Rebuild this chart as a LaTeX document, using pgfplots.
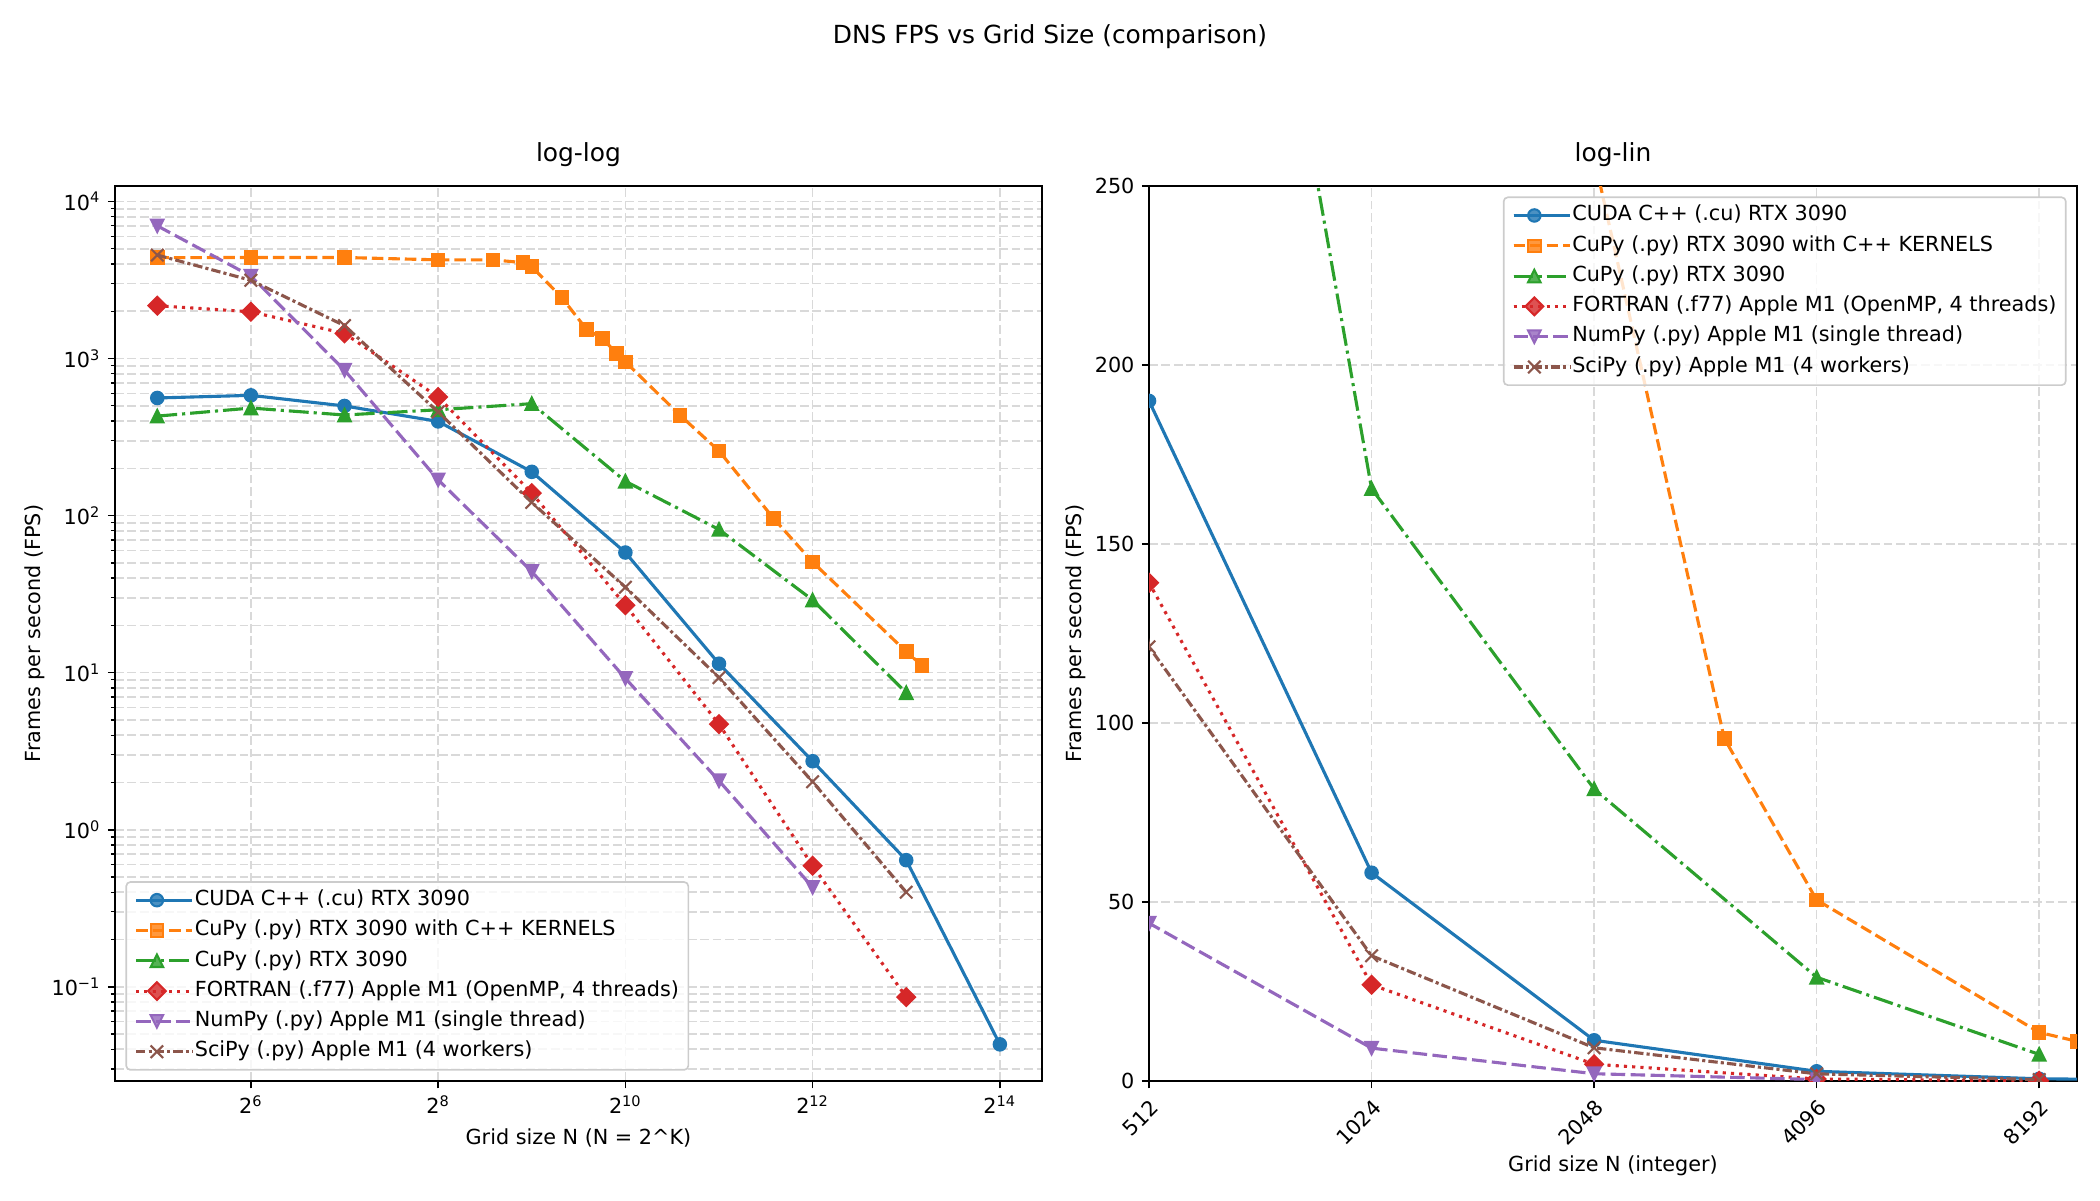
\documentclass[border=0pt]{standalone}
\usepackage{fontspec}
\setmainfont{DejaVu Sans}
\usepackage{pgfplots}
\usepackage{pgfplotstable}
\pgfplotsset{compat=1.18}

\definecolor{c0}{HTML}{1F77B4}
\definecolor{c1}{HTML}{FF7F0E}
\definecolor{c2}{HTML}{2CA02C}
\definecolor{c3}{HTML}{D62728}
\definecolor{c4}{HTML}{9467BD}
\definecolor{c5}{HTML}{8C564B}
\definecolor{gridc}{HTML}{D9D9D9}
\definecolor{legc}{HTML}{CCCCCC}

\pgfdeclareplotmark{mpltriup}{%
  \pgfpathmoveto{\pgfqpoint{0pt}{\pgfplotmarksize}}%
  \pgfpathlineto{\pgfqpoint{-\pgfplotmarksize}{-\pgfplotmarksize}}%
  \pgfpathlineto{\pgfqpoint{\pgfplotmarksize}{-\pgfplotmarksize}}%
  \pgfpathclose\pgfusepathqfillstroke}
\pgfdeclareplotmark{mpltridown}{%
  \pgfpathmoveto{\pgfqpoint{0pt}{-\pgfplotmarksize}}%
  \pgfpathlineto{\pgfqpoint{-\pgfplotmarksize}{\pgfplotmarksize}}%
  \pgfpathlineto{\pgfqpoint{\pgfplotmarksize}{\pgfplotmarksize}}%
  \pgfpathclose\pgfusepathqfillstroke}
\pgfdeclareplotmark{mpldiamond}{%
  \pgfpathmoveto{\pgfqpoint{0pt}{1.4142\pgfplotmarksize}}%
  \pgfpathlineto{\pgfqpoint{1.4142\pgfplotmarksize}{0pt}}%
  \pgfpathlineto{\pgfqpoint{0pt}{-1.4142\pgfplotmarksize}}%
  \pgfpathlineto{\pgfqpoint{-1.4142\pgfplotmarksize}{0pt}}%
  \pgfpathclose\pgfusepathqfillstroke}
\pgfdeclareplotmark{mplx}{%
  \pgfpathmoveto{\pgfqpoint{-\pgfplotmarksize}{-\pgfplotmarksize}}%
  \pgfpathlineto{\pgfqpoint{\pgfplotmarksize}{\pgfplotmarksize}}%
  \pgfpathmoveto{\pgfqpoint{-\pgfplotmarksize}{\pgfplotmarksize}}%
  \pgfpathlineto{\pgfqpoint{\pgfplotmarksize}{-\pgfplotmarksize}}%
  \pgfusepathqstroke}

\pgfplotstableread{
N fps
32 561
64 583
128 499
256 398
512 190
1024 58.2
2048 11.4
4096 2.73
8192 0.64
16384 0.043
}\cuda
\pgfplotstableread{
N fps
32 4390
64 4400
128 4400
256 4250
384 4250
480 4080
512 3850
640 2440
768 1535
864 1343
960 1077
1024 953
1536 435
2048 258
3072 95.7
4096 50.6
8192 13.6
9216 11.1
}\cupyk
\pgfplotstableread{
N fps
32 430
64 484
128 437
256 472
512 516
1024 165.5
2048 81.6
4096 29.0
8192 7.45
}\cupy
\pgfplotstableread{
N fps
32 2170
64 1985
128 1445
256 569
512 139.2
1024 26.9
2048 4.7
4096 0.59
8192 0.086
}\fortran
\pgfplotstableread{
N fps
32 7000
64 3350
128 843
256 169
512 44.1
1024 9.2
2048 2.05
4096 0.43
}\numpy
\pgfplotstableread{
N fps
32 4560
64 3150
128 1620
256 457
512 121.3
1024 35.0
2048 9.3
4096 2.02
8192 0.40
}\scipy

\pgfplotsset{
  mplbase/.style={
    scale only axis, width=446.6pt, height=431.2pt,
    axis line style={black, line width=0.8pt},
    tick align=outside, tick pos=left,
    major tick length=3.5pt, minor tick length=2pt,
    every tick/.style={black, line width=0.8pt},
    minor tick style={black, line width=0.6pt},
    grid style={gridc, line width=0.8pt, dash pattern=on 4.2pt off 1.8pt},
    minor grid style={gridc, line width=0.8pt, dash pattern=on 4.2pt off 1.8pt},
    tick label style={font=\fontsize{10}{12}\selectfont},
    label style={font=\fontsize{10}{12}\selectfont},
    title style={font=\fontsize{12}{14}\selectfont, at={(0.5,1)}, anchor=base, yshift=6pt},
    clip marker paths=true,
    legend cell align=left,
    legend style={font=\fontsize{10}{12}\selectfont, draw=legc, line width=0.8pt,
      rounded corners=2pt, fill=white, fill opacity=0.8, text opacity=1,
      inner xsep=4pt, inner ysep=3.3pt, row sep=3.7pt,
      nodes={inner sep=0.5pt, text height=7.5pt, text depth=2.4pt}},
    legend image code/.code={%
      \path (0cm,0cm) -- (0.705cm+7pt,0cm);
      \draw[mark repeat=2,mark phase=2] plot coordinates {(0cm,0cm) (0.3525cm,0cm) (0.705cm,0cm)};},
    every axis plot/.append style={line width=1.5pt},
    mark options={solid, line width=1pt},
  },
  s0/.style={color=c0, solid, mark=*, mark size=3pt},
  s1/.style={color=c1, dash pattern=on 5.55pt off 2.4pt, mark=square*, mark size=3pt},
  s2/.style={color=c2, dash pattern=on 9.6pt off 2.4pt on 1.5pt off 2.4pt, mark=mpltriup, mark size=3pt},
  s3/.style={color=c3, dash pattern=on 1.5pt off 2.475pt, mark=mpldiamond, mark size=3pt},
  s4/.style={color=c4, dash pattern=on 7pt off 2.6pt, mark=mpltridown, mark size=3pt},
  s5/.style={color=c5, dash pattern=on 4.5pt off 1.5pt on 1.5pt off 1.5pt, mark=mplx, mark size=3pt},
}

\begin{document}
\begin{tikzpicture}
\useasboundingbox (0,0) rectangle (1011.8pt,578.2pt);
\node[anchor=north, inner sep=0pt, font=\fontsize{12}{14}\selectfont] at (505.9pt,566.6pt) {DNS FPS vs Grid Size (comparison)};

\begin{axis}[mplbase, at={(55.41pt,57.33pt)}, anchor=south west,
  xmode=log, ymode=log, log basis x=2,
  xmin=23.4, xmax=22370, ymin=0.0251, ymax=12530,
  xtick={64,256,1024,4096,16384},
  xticklabels={2\textsuperscript{6},2\textsuperscript{8},2\textsuperscript{10},2\textsuperscript{12},2\textsuperscript{14}},
  xminorticks=false,
  ytick={0.1,1,10,100,1000,10000},
  yticklabels={10\textsuperscript{−1},10\textsuperscript{0},10\textsuperscript{1},10\textsuperscript{2},10\textsuperscript{3},10\textsuperscript{4}},
  minor ytick={0.03,0.04,0.05,0.06,0.07,0.08,0.09,0.2,0.3,0.4,0.5,0.6,0.7,0.8,0.9,2,3,4,5,6,7,8,9,20,30,40,50,60,70,80,90,200,300,400,500,600,700,800,900,2000,3000,4000,5000,6000,7000,8000,9000},
  xmajorgrids, ymajorgrids, yminorgrids,
  title={log-log},
  xlabel={Grid size N (N = 2\textasciicircum K)},
  ylabel={Frames per second (FPS)},
  ylabel shift=-3.4pt,
  legend style={at={(0,0)}, anchor=south west, xshift=5pt, yshift=5pt},
]
\addplot[s0] table[x=N,y=fps] {\cuda};
\addplot[s1] table[x=N,y=fps] {\cupyk};
\addplot[s2] table[x=N,y=fps] {\cupy};
\addplot[s3] table[x=N,y=fps] {\fortran};
\addplot[s4] table[x=N,y=fps] {\numpy};
\addplot[s5] table[x=N,y=fps] {\scipy};
\legend{CUDA C++ (.cu) RTX 3090, CuPy (.py) RTX 3090 with C++ KERNELS, CuPy (.py) RTX 3090, {FORTRAN (.f77) Apple M1 (OpenMP, 4 threads)}, NumPy (.py) Apple M1 (single thread), SciPy (.py) Apple M1 (4 workers)}
\end{axis}

\begin{axis}[mplbase, at={(553.6pt,57.33pt)}, anchor=south west, width=447.1pt,
  xmode=log, log basis x=2,
  xmin=512, xmax=9216, ymin=0, ymax=250,
  xtick={512,1024,2048,4096,8192},
  xticklabels={512,1024,2048,4096,8192},
  xticklabel style={rotate=45, anchor=north east},
  xminorticks=false,
  ytick={0,50,100,150,200,250},
  yticklabels={0,50,100,150,200,250},
  xmajorgrids, ymajorgrids,
  title={log-lin},
  xlabel={Grid size N (integer)},
  xlabel shift=-3.9pt,
  ylabel={Frames per second (FPS)},
  ylabel shift=-2.6pt,
  legend style={at={(1,1)}, anchor=north east, xshift=-5pt, yshift=-5pt},
]
\addplot[s0] table[x=N,y=fps] {\cuda};
\addplot[s1] table[x=N,y=fps] {\cupyk};
\addplot[s2] table[x=N,y=fps] {\cupy};
\addplot[s3] table[x=N,y=fps] {\fortran};
\addplot[s4] table[x=N,y=fps] {\numpy};
\addplot[s5] table[x=N,y=fps] {\scipy};
\legend{CUDA C++ (.cu) RTX 3090, CuPy (.py) RTX 3090 with C++ KERNELS, CuPy (.py) RTX 3090, {FORTRAN (.f77) Apple M1 (OpenMP, 4 threads)}, NumPy (.py) Apple M1 (single thread), SciPy (.py) Apple M1 (4 workers)}
\end{axis}
\end{tikzpicture}
\end{document}
